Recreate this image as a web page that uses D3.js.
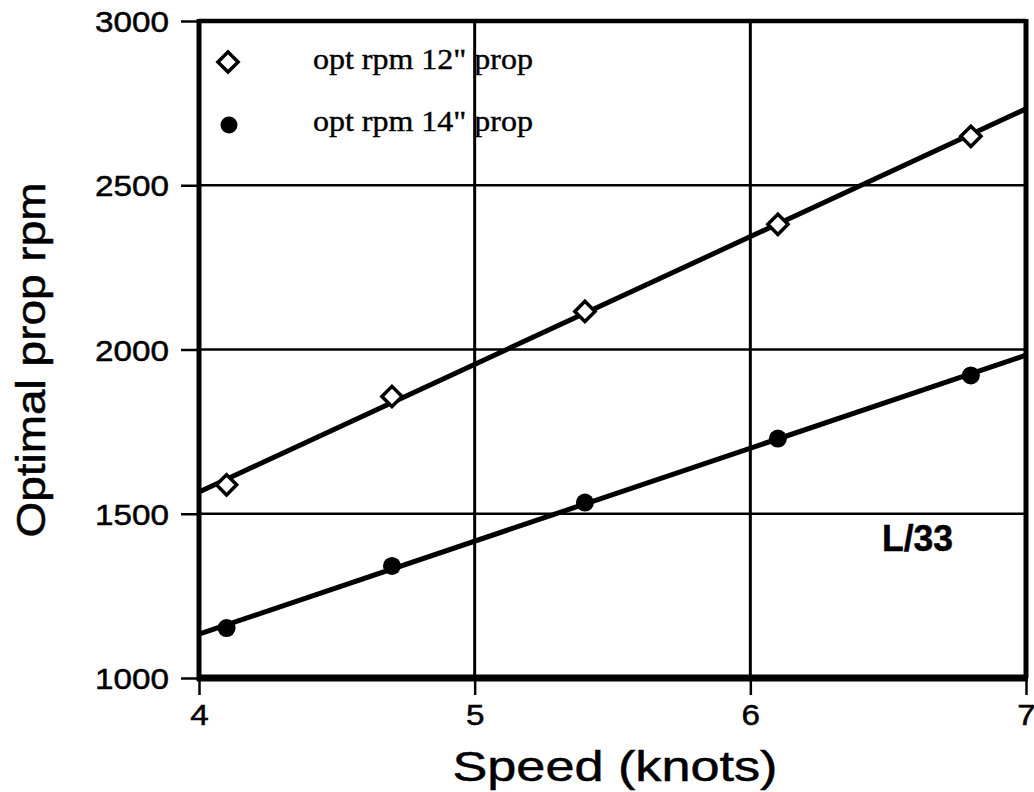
<!DOCTYPE html>
<html>
  <head>
    <meta charset="utf-8">
    <title>Optimal prop rpm</title>
    <script src="https://cdnjs.cloudflare.com/ajax/libs/d3/7.8.5/d3.min.js"></script>
    <style>
      body { margin: 0; background-color: #FFF }
      svg { display: block; background-color: #FFF }
      .sans { font-family: "Liberation Sans", Arial, sans-serif; stroke: #000; stroke-width: 0.5px }
      .serif { font-family: "Liberation Serif", "Times New Roman", serif; stroke: #000; stroke-width: 0.4px }
    </style>
  </head>
  <body>
    <svg width="1034" height="792"></svg>
    <script>
      // data
      var speeds = [4.1, 4.7, 5.4, 6.1, 6.8];
      var rpm12 = [1588, 1857, 2116, 2381, 2649];
      var rpm14 = [1152, 1341, 1534, 1729, 1921];
      var xTicks = [4, 5, 6, 7];
      var yTicks = [1000, 1500, 2000, 2500, 3000];
      var legendLabels = ['opt rpm 12" prop', 'opt rpm 14" prop'];

      var svg = d3.select("svg");
      var pLeft = 199, pRight = 1026, pTop = 21, pBottom = 678;

      var x = d3.scaleLinear().domain([4, 7]).range([pLeft, pRight]);
      var y = d3.scaleLinear().domain([1000, 3000]).range([pBottom, pTop]);

      // gridlines
      svg.selectAll("line.hgrid").data(yTicks.slice(1, -1)).enter().append("line")
        .attr("x1", pLeft).attr("x2", pRight)
        .attr("y1", function(d) { return y(d) }).attr("y2", function(d) { return y(d) })
        .attr("stroke", "#000").attr("stroke-width", 2.5);
      svg.selectAll("line.vgrid").data(xTicks.slice(1, -1)).enter().append("line")
        .attr("y1", pTop).attr("y2", pBottom)
        .attr("x1", function(d) { return x(d) }).attr("x2", function(d) { return x(d) })
        .attr("stroke", "#000").attr("stroke-width", 3);

      // axes (ticks + labels)
      var yAxis = svg.append("g").attr("transform", "translate(" + pLeft + ",0)")
        .call(d3.axisLeft(y).tickValues(yTicks).tickSize(18).tickPadding(12).tickFormat(d3.format("d")));
      var xAxis = svg.append("g").attr("transform", "translate(0," + pBottom + ")")
        .call(d3.axisBottom(x).tickValues(xTicks).tickSize(17).tickPadding(9).tickFormat(d3.format("d")));
      [yAxis, xAxis].forEach(function(g) {
        g.select(".domain").remove();
        g.attr("font-size", null).attr("font-family", null);
        g.selectAll(".tick line").attr("stroke", "#000").attr("stroke-width", 2.5);
        g.selectAll(".tick text").attr("class", "sans").attr("font-size", 30).attr("fill", "#000")
          .attr("textLength", function(d) { return String(d).length * 18.5 })
          .attr("lengthAdjust", "spacingAndGlyphs");
      });
      yAxis.selectAll(".tick text").attr("dy", "0.35em");

      // frame
      svg.append("line").attr("x1", pLeft).attr("x2", pRight).attr("y1", pTop).attr("y2", pTop)
        .attr("stroke", "#000").attr("stroke-width", 4.5);
      svg.append("line").attr("x1", pRight).attr("x2", pRight).attr("y1", pTop - 2).attr("y2", pBottom)
        .attr("stroke", "#000").attr("stroke-width", 5);
      svg.append("line").attr("x1", pLeft).attr("x2", pLeft).attr("y1", pTop - 2).attr("y2", pBottom + 3)
        .attr("stroke", "#000").attr("stroke-width", 5);
      svg.append("line").attr("x1", pLeft - 2).attr("x2", pRight + 2).attr("y1", pBottom).attr("y2", pBottom)
        .attr("stroke", "#000").attr("stroke-width", 7);

      // least squares trend lines
      function fit(xs, ys) {
        var mx = d3.mean(xs), my = d3.mean(ys);
        var b = d3.sum(xs, function(v, i) { return (v - mx) * (ys[i] - my) }) /
                d3.sum(xs, function(v) { return (v - mx) * (v - mx) });
        return function(v) { return my + b * (v - mx) };
      }
      var line = d3.line().x(function(d) { return x(d[0]) }).y(function(d) { return y(d[1]) });
      [rpm12, rpm14].forEach(function(vals) {
        var f = fit(speeds, vals);
        svg.append("path").datum([[4, f(4)], [7, f(7)]])
          .attr("d", line).attr("fill", "none").attr("stroke", "#000").attr("stroke-width", 5);
      });

      // markers
      var diamond = d3.symbol().type(d3.symbolDiamond2).size(260);
      svg.selectAll("path.d12").data(speeds).enter().append("path")
        .attr("transform", function(d, i) { return "translate(" + x(d) + "," + y(rpm12[i]) + ")" })
        .attr("d", diamond).attr("fill", "#FFF").attr("stroke", "#000").attr("stroke-width", 3.5);
      svg.selectAll("circle.c14").data(speeds).enter().append("circle")
        .attr("cx", function(d) { return x(d) }).attr("cy", function(d, i) { return y(rpm14[i]) })
        .attr("r", 9).attr("fill", "#000");

      // legend
      svg.append("path").attr("transform", "translate(228,62)").attr("d", diamond)
        .attr("fill", "#FFF").attr("stroke", "#000").attr("stroke-width", 3.5);
      svg.append("circle").attr("cx", 229).attr("cy", 125).attr("r", 8.5).attr("fill", "#000");
      svg.selectAll("text.leg").data(legendLabels).enter().append("text")
        .attr("class", "serif").attr("x", 313).attr("y", function(d, i) { return 69 + i * 62 })
        .attr("font-size", 29).attr("fill", "#000")
        .attr("textLength", 220).attr("lengthAdjust", "spacingAndGlyphs")
        .text(function(d) { return d });

      // annotation
      svg.append("text").attr("class", "sans").attr("x", 882).attr("y", 551)
        .attr("font-size", 36).attr("font-weight", "bold").attr("fill", "#000")
        .attr("textLength", 71).attr("lengthAdjust", "spacingAndGlyphs").text("L/33");

      // axis titles
      svg.append("text").attr("class", "sans").attr("x", 615).attr("y", 781)
        .attr("text-anchor", "middle").attr("font-size", 42).attr("fill", "#000")
        .attr("textLength", 325).attr("lengthAdjust", "spacingAndGlyphs").text("Speed (knots)");
      svg.append("text").attr("class", "sans")
        .attr("transform", "translate(45,360) rotate(-90)")
        .attr("text-anchor", "middle").attr("font-size", 41).attr("fill", "#000")
        .attr("textLength", 355).attr("lengthAdjust", "spacingAndGlyphs").text("Optimal prop rpm");
    </script>
  </body>
</html>
